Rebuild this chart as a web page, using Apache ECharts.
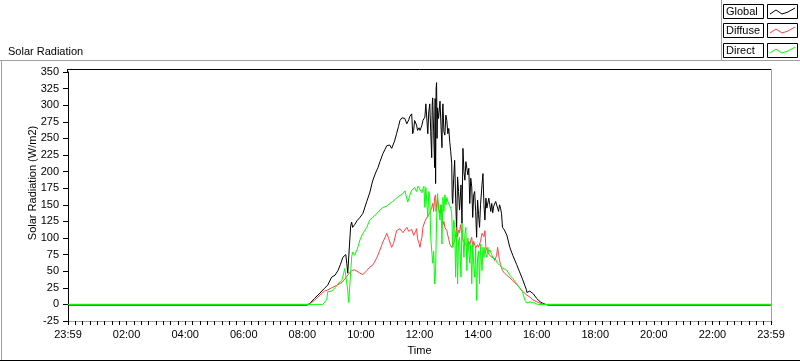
<!DOCTYPE html>
<html>
<head>
<meta charset="utf-8">
<script src="https://cdn.jsdelivr.net/npm/echarts@6/dist/echarts.min.js"></script>
<style>
html,body{margin:0;padding:0;background:#fff;}
#chart{width:800px;height:361px;}
</style>
</head>
<body>
<div id="chart"></div>
<script>
// ---- data (minutes after 23:59 of previous day, W/m2) ----
const seriesNames = ['Global', 'Diffuse', 'Direct'];
const seriesColors = ['#000000', '#ff4040', '#00ff00'];
const xTickLabels = ['23:59','02:00','04:00','06:00','08:00','10:00','12:00','14:00','16:00','18:00','20:00','22:00','23:59'];
const yTicks = { min: -25, max: 350, step: 25 };
const chartTitle = 'Solar Radiation';
const yName = 'Solar Radiation (W/m2)';
const xName = 'Time';

const globalTime = [0,490,495,505,516,525,532,540,547,553,558,563,567,569,571,573,577,579,581,583,587,592,598,604,612,618,624,630,635,639,645,649,653,657,659,663,665,669,673,677,680,684,688,690,694,698,700,704,706,708,710,714,716,719,721,725,727,731,733,735,737,739,741,743,745,746,747,749,751,752,753,754,755,756,757,759,762,764,766,767,768,770,772,774,776,778,780,782,784,786,787,788,790,792,794,796,798,800,802,805,807,809,811,813,815,817,819,821,823,825,827,829,831,833,835,837,839,841,843,845,848,850,852,854,856,858,860,862,864,866,868,870,872,874,876,878,880,882,884,886,888,890,892,894,899,905,911,919,925,931,936,939,940,942,946,950,953,956,960,962,967,972,978,983,1440];
const globalVal  = [-1,-1,1,9,17,24,29,41,44,51,60,71,74,75,62,47,47,118,124,116,120,126,131,137,155,168,186,198,206,215,227,233,239,238,240,235,236,246,257,268,277,281,283,280,272,278,283,287,257,262,277,270,262,266,262,270,277,282,302,302,257,290,302,260,221,300,311,260,206,310,182,325,334,250,296,280,306,270,236,290,302,260,255,285,277,257,265,244,230,212,161,152,190,217,160,112,192,170,142,180,122,235,200,187,215,212,195,205,152,190,177,131,165,170,140,101,157,135,116,150,180,197,150,127,160,145,142,160,150,140,152,138,148,145,155,152,145,140,150,145,137,116,118,112,104,86,74,60,49,38,28,22,18,19,20,19,16,13,9,7,4,2,0,-1,-1];

const diffuseTime = [0,490,495,505,516,525,530,540,551,561,567,571,575,577,581,583,587,592,598,604,608,612,618,624,628,633,639,645,649,653,655,657,661,663,667,673,677,680,684,686,690,694,698,700,704,706,708,710,712,714,716,719,721,723,725,727,731,735,737,741,743,745,747,749,751,753,754,755,757,759,762,764,766,768,770,772,776,778,780,782,784,786,788,790,792,794,796,798,800,802,804,807,809,811,813,815,817,819,821,823,825,827,829,831,833,835,837,839,841,843,845,848,850,852,854,856,858,860,862,864,866,868,870,872,874,876,878,880,882,884,886,888,890,894,899,905,911,919,925,931,940,946,952,960,966,976,1440];
const diffuseVal  = [0,0,1,6,14,20,21,25,29,33,38,41,46,48,51,48,52,50,47,45,48,51,56,59,64,71,82,94,100,107,108,99,90,86,92,111,113,114,116,108,112,116,110,108,113,116,104,101,110,114,99,92,86,95,101,116,125,131,128,137,142,146,152,140,161,165,140,150,158,145,137,150,135,120,125,116,111,104,98,91,88,86,84,89,95,105,116,102,112,108,120,118,97,95,92,89,95,88,95,90,97,101,86,95,92,85,82,90,86,89,95,107,107,102,111,86,82,78,80,76,72,71,75,70,66,70,74,86,75,66,60,55,51,47,44,40,36,30,25,20,14,11,7,4,2,0,0];

const directTime = [0,522,530,532,540,547,553,561,563,567,571,573,575,577,579,581,583,587,592,598,604,612,618,624,633,639,645,653,659,665,673,680,686,690,694,696,700,704,706,710,714,717,721,725,727,729,731,733,735,737,739,741,743,745,747,749,751,753,755,757,759,762,764,766,768,770,772,774,776,778,780,782,784,786,788,790,792,794,796,798,800,802,805,807,809,811,813,815,817,819,821,823,825,827,829,831,833,835,837,839,841,843,845,848,850,852,854,856,858,860,862,864,866,868,870,872,874,876,878,880,882,884,890,894,899,905,911,919,925,931,936,940,942,946,950,956,962,1440];
const directVal  = [0,0,7,19,20,25,31,36,39,54,56,21,3,3,6,71,79,74,82,97,107,116,127,131,137,142,146,148,152,155,160,164,167,171,168,154,164,172,174,176,170,178,176,168,174,178,146,176,176,131,170,161,101,101,62,80,31,51,127,167,145,127,150,91,161,140,165,150,161,155,158,152,145,137,86,127,120,41,110,31,95,101,41,122,100,71,105,116,51,100,80,62,90,31,91,60,41,85,6,71,80,31,91,51,86,71,86,75,71,86,78,82,80,75,71,73,69,68,64,62,61,59,55,52,51,44,39,31,25,19,6,2,4,4,3,2,0,0];

function pairs(t, v) { return t.map((x, i) => [x, v[i]]); }
const seriesData = [pairs(globalTime, globalVal), pairs(diffuseTime, diffuseVal), pairs(directTime, directVal)];

// ---- chart ----
const FONT = '"Liberation Sans", Arial, sans-serif';
const chart = echarts.init(document.getElementById('chart'), null, { renderer: 'canvas' });

const gl = 68, gr = 771, gt = 72, gb = 322;

function hline(x1, x2, y, color) {
  return { type: 'line', silent: true, shape: { x1: x1, y1: y, x2: x2, y2: y }, style: { stroke: color, lineWidth: 1 } };
}
function vline(x, y1, y2, color) {
  return { type: 'line', silent: true, shape: { x1: x, y1: y1, x2: x, y2: y2 }, style: { stroke: color, lineWidth: 1 } };
}

const legendGraphics = [];
const legendTops = [4, 23, 43];
seriesNames.forEach((name, i) => {
  const y = legendTops[i];
  legendGraphics.push({ type: 'rect', silent: true, shape: { x: 723.5, y: y + 0.5, width: 40, height: 14 }, style: { fill: '#fff', stroke: '#000', lineWidth: 1 } });
  legendGraphics.push({ type: 'text', silent: true, x: 726, y: y + 8, style: { text: name, font: '11px ' + FONT, fill: '#000', textVerticalAlign: 'middle' } });
  legendGraphics.push({ type: 'rect', silent: true, shape: { x: 767.5, y: y + 0.5, width: 30, height: 14 }, style: { fill: '#fff', stroke: '#000', lineWidth: 1 } });
  legendGraphics.push({ type: 'polyline', silent: true, shape: { points: [[770, y + 10], [776, y + 6], [782, y + 10], [788, y + 8], [795, y + 4]] }, style: { stroke: seriesColors[i], lineWidth: 1, fill: null } });
});

const option = {
  animation: false,
  backgroundColor: '#ffffff',
  textStyle: { fontFamily: FONT },
  title: {
    text: chartTitle, left: 3, top: 41,
    textStyle: { fontSize: 11, fontWeight: 'normal', color: '#000', fontFamily: FONT }
  },
  grid: { left: gl, right: 800 - gr, top: gt, bottom: 361 - gb, containLabel: false },
  xAxis: {
    type: 'value', min: 0, max: 1440, interval: 15,
    name: xName, nameLocation: 'middle', nameGap: 24,
    nameTextStyle: { fontSize: 11, color: '#000', fontFamily: FONT },
    axisLine: { show: true, onZero: false, lineStyle: { color: '#a0a0a0', width: 1 } },
    axisTick: { show: true, length: 4, lineStyle: { color: '#000', width: 1 } },
    axisLabel: { fontSize: 11, color: '#000', margin: 8, fontFamily: FONT, showMinLabel: true, showMaxLabel: true,
      formatter: v => (Math.round(v) % 120 === 0 ? xTickLabels[Math.round(v / 120)] : '') },
    splitLine: { show: false }
  },
  yAxis: {
    type: 'value', min: yTicks.min, max: yTicks.max, interval: yTicks.step,
    axisLine: { show: true, onZero: false, lineStyle: { color: '#000', width: 1 } },
    axisTick: { show: true, length: 5, lineStyle: { color: '#000' } },
    axisLabel: { fontSize: 11, color: '#000', margin: 9, fontFamily: FONT },
    splitLine: { show: false }
  },
  series: seriesNames.map((n, i) => ({
    name: n, type: 'line', data: seriesData[i], showSymbol: false, symbol: 'none',
    sampling: null, smooth: false, silent: true,
    lineStyle: { color: seriesColors[i], width: 1 }
  })),
  graphic: [
    hline(0, 800, 60.5, '#a0a0a0'),
    vline(721.5, 0, 60, '#a0a0a0'),
    vline(1.5, 60, 360, '#a0a0a0'),
    hline(0, 800, 360.5, '#000'),
    hline(gl, gr, 69.5, '#000'),
    vline(gl - 0.5, 69, gt, '#000'),
    vline(gr + 0.5, 69, gb, '#a0a0a0'),
    { type: 'text', silent: true, x: 33, y: 183, rotation: Math.PI / 2,
      style: { text: yName, font: '11px ' + FONT, fill: '#000', textAlign: 'center', textVerticalAlign: 'middle' } }
  ].concat(legendGraphics)
};
chart.setOption(option);
</script>
</body>
</html>
